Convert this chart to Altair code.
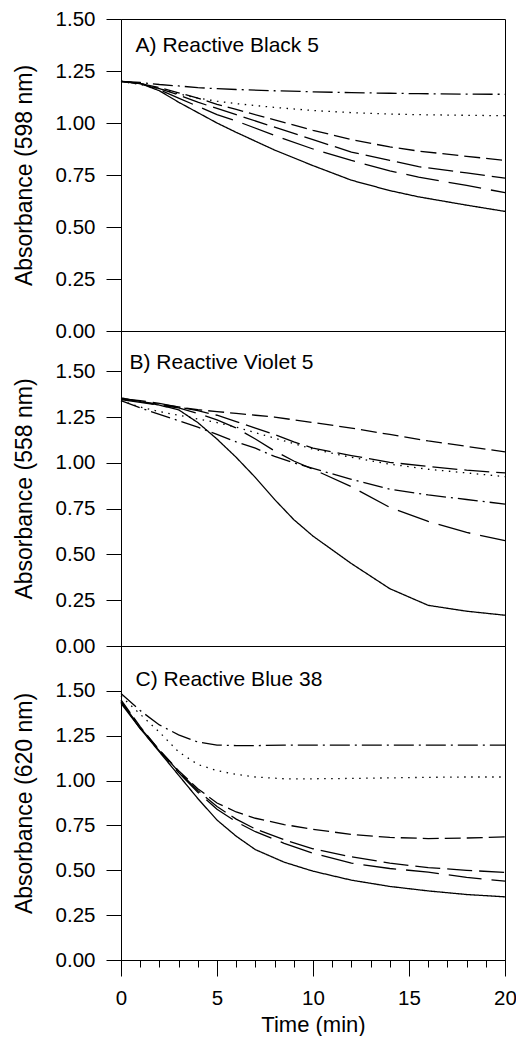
import altair as alt
import pandas as pd

FONT = "Liberation Sans"

series_names = ["solid", "long dash", "medium dash", "short dash", "dotted", "dash-dot"]
dash_patterns = [[1, 0], [33, 10], [25, 7], [16, 6], [1.5, 5.5], [20, 5, 2, 5]]

# ---- Panel A: Reactive Black 5 (598 nm) ----
a_time = [0, 1, 2, 3, 4, 5, 6, 8, 10, 12, 14, 15.5, 18, 20]
a_solid = [1.20, 1.19, 1.155, 1.10, 1.05, 1.00, 0.955, 0.87, 0.795, 0.725, 0.675, 0.645, 0.605, 0.575]
a_long = [1.20, 1.19, 1.16, 1.12, 1.08, 1.04, 1.01, 0.94, 0.875, 0.82, 0.77, 0.74, 0.70, 0.665]
a_medium = [1.20, 1.19, 1.165, 1.135, 1.10, 1.07, 1.04, 0.98, 0.92, 0.86, 0.82, 0.79, 0.76, 0.735]
a_short = [1.20, 1.19, 1.17, 1.145, 1.12, 1.09, 1.065, 1.015, 0.965, 0.92, 0.885, 0.865, 0.84, 0.82]
a_dotted = [1.20, 1.185, 1.165, 1.14, 1.12, 1.105, 1.093, 1.075, 1.06, 1.05, 1.043, 1.04, 1.037, 1.035]
a_dashdot = [1.20, 1.195, 1.185, 1.178, 1.17, 1.165, 1.161, 1.155, 1.15, 1.146, 1.143, 1.141, 1.139, 1.138]

# ---- Panel B: Reactive Violet 5 (558 nm) ----
b_time = [0, 1, 2, 3, 4, 5, 6, 7, 8, 9, 10, 12, 14, 16, 18, 20]
b_solid = [1.355, 1.335, 1.315, 1.29, 1.22, 1.13, 1.03, 0.92, 0.80, 0.69, 0.60, 0.45, 0.313, 0.222, 0.19, 0.168]
b_long = [1.345, 1.33, 1.315, 1.30, 1.27, 1.235, 1.19, 1.13, 1.065, 1.01, 0.965, 0.87, 0.757, 0.68, 0.62, 0.575]
b_medium = [1.35, 1.34, 1.325, 1.305, 1.285, 1.26, 1.225, 1.19, 1.155, 1.115, 1.08, 1.04, 1.003, 0.98, 0.96, 0.945]
b_short = [1.35, 1.335, 1.32, 1.305, 1.29, 1.28, 1.27, 1.26, 1.25, 1.235, 1.22, 1.19, 1.155, 1.12, 1.09, 1.06]
b_dotted = [1.34, 1.305, 1.28, 1.26, 1.24, 1.22, 1.195, 1.165, 1.135, 1.105, 1.075, 1.03, 0.993, 0.965, 0.945, 0.925]
b_dashdot = [1.34, 1.30, 1.265, 1.23, 1.195, 1.155, 1.115, 1.08, 1.035, 1.00, 0.97, 0.91, 0.856, 0.825, 0.80, 0.775]

# ---- Panel C: Reactive Blue 38 (620 nm) ----
c_time = [0, 1, 2, 3, 4, 5, 6, 7, 8.5, 10, 12, 14, 16, 18, 20]
c_solid = [1.44, 1.29, 1.16, 1.03, 0.90, 0.78, 0.69, 0.615, 0.545, 0.495, 0.445, 0.41, 0.385, 0.365, 0.352]
c_long = [1.43, 1.29, 1.165, 1.045, 0.935, 0.84, 0.77, 0.715, 0.65, 0.595, 0.54, 0.51, 0.49, 0.46, 0.44]
c_medium = [1.44, 1.295, 1.17, 1.05, 0.945, 0.855, 0.785, 0.73, 0.67, 0.62, 0.575, 0.54, 0.515, 0.50, 0.488]
c_short = [1.45, 1.30, 1.17, 1.055, 0.955, 0.875, 0.825, 0.79, 0.755, 0.728, 0.70, 0.683, 0.677, 0.68, 0.686]
c_dotted = [1.47, 1.37, 1.27, 1.16, 1.09, 1.055, 1.035, 1.02, 1.01, 1.01, 1.012, 1.015, 1.018, 1.02, 1.02]
c_dashdot = [1.485, 1.39, 1.31, 1.255, 1.215, 1.198, 1.195, 1.195, 1.197, 1.198, 1.198, 1.198, 1.198, 1.198, 1.198]

panel_labels = ["A) Reactive Black 5", "B) Reactive Violet 5", "C) Reactive Blue 38"]
y_titles = ["Absorbance (598 nm)", "Absorbance (558 nm)", "Absorbance (620 nm)"]
y_ticks = [0, 0.25, 0.5, 0.75, 1.0, 1.25, 1.5]
x_major = [0, 5, 10, 15, 20]
x_minor = list(range(0, 21))


def make_df(time, lists):
    rows = []
    for name, vals in zip(series_names, lists):
        for t, v in zip(time, vals):
            rows.append({"t": t, "v": v, "series": name})
    return pd.DataFrame(rows)


def panel(df, label, label_x, label_y, ytitle, ymax, height, bottom):
    xscale = alt.Scale(domain=[0, 20], nice=False)
    yscale = alt.Scale(domain=[0, ymax], nice=False)
    if bottom:
        xaxis = alt.Axis(values=x_major, tickSize=16, labelFontSize=20.5, labelPadding=12,
                         labelFlush=False, title="Time (min)", titleFontSize=22,
                         titlePadding=6, grid=False, orient="bottom")
    else:
        xaxis = None
    yaxis = alt.Axis(values=y_ticks, format=".2f", tickSize=15, labelFontSize=20.5,
                     labelPadding=11, title=ytitle, titleFontSize=23, titlePadding=19,
                     grid=False)
    lines = alt.Chart(df).mark_line(color="black", strokeWidth=1.3).encode(
        x=alt.X("t:Q", scale=xscale, axis=xaxis),
        y=alt.Y("v:Q", scale=yscale, axis=yaxis),
        strokeDash=alt.StrokeDash("series:N",
                                  scale=alt.Scale(domain=series_names, range=dash_patterns),
                                  legend=None),
    )
    text = alt.Chart(pd.DataFrame({"label": [label]})).mark_text(
        align="left", baseline="middle", fontSize=21, font=FONT, color="black"
    ).encode(
        x=alt.XDatum(label_x, type="quantitative", scale=xscale, axis=None),
        y=alt.YDatum(label_y, type="quantitative", scale=yscale, axis=yaxis),
        text="label:N",
    )
    layers = [lines, text]
    if bottom:
        minor = alt.Chart(df).mark_point(opacity=0).encode(
            x=alt.X("t:Q", scale=xscale,
                    axis=alt.Axis(values=x_minor, tickSize=7, labels=False, domain=False,
                                  title=None, grid=False, orient="bottom")),
            y=alt.Y("v:Q", scale=yscale, axis=yaxis),
        )
        layers.append(minor)
        return alt.layer(*layers).resolve_axis(x="independent").properties(width=384, height=height)
    return alt.layer(*layers).properties(width=384, height=height)


pa = panel(make_df(a_time, [a_solid, a_long, a_medium, a_short, a_dotted, a_dashdot]),
           panel_labels[0], 0.76, 1.372, y_titles[0], 1.5, 312, False)
pb = panel(make_df(b_time, [b_solid, b_long, b_medium, b_short, b_dotted, b_dashdot]),
           panel_labels[1], 0.44, 1.544, y_titles[1], 1.72, 315, False)
pc = panel(make_df(c_time, [c_solid, c_long, c_medium, c_short, c_dotted, c_dashdot]),
           panel_labels[2], 0.76, 1.561, y_titles[2], 1.75, 314, True)

chart = alt.vconcat(pa, pb, pc, spacing=0, bounds="flush").configure_view(
    stroke="black", strokeWidth=1
).configure_axis(
    domainColor="black", tickColor="black", labelColor="black", titleColor="black",
    labelFont=FONT, titleFont=FONT, titleFontWeight="normal", domainWidth=1, tickWidth=1
).properties(
    padding={"top": 0, "left": 4, "right": -1, "bottom": 0},
    background="white",
)

chart.save("out.html", embed_options={"renderer": "svg", "actions": False})
